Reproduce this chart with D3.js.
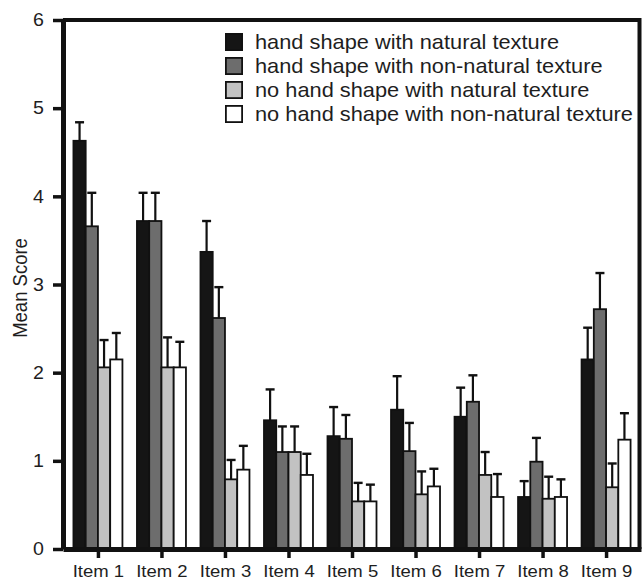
<!DOCTYPE html>
<html>
  <head>
    <meta charset="UTF-8" />
    <script src="https://cdn.jsdelivr.net/npm/d3@7"></script>
    <title>Mean Score</title>
    <style type="text/css">
      body { margin: 0; background: #fff; }
      text { font-family: "Liberation Sans", Arial, sans-serif; fill: #1e1e1e; }
    </style>
  </head>
  <body>
    <div id="chartcontainer"></div>
    <script>
      // data
      var items = ["Item 1", "Item 2", "Item 3", "Item 4", "Item 5", "Item 6", "Item 7", "Item 8", "Item 9"];
      var seriesNames = [
        "hand shape with natural texture",
        "hand shape with non-natural texture",
        "no hand shape with natural texture",
        "no hand shape with non-natural texture"
      ];
      var handNatural = [4.63, 3.72, 3.37, 1.46, 1.28, 1.58, 1.50, 0.59, 2.15];
      var handNonNatural = [3.66, 3.72, 2.62, 1.10, 1.25, 1.11, 1.67, 0.99, 2.72];
      var noHandNatural = [2.06, 2.06, 0.79, 1.10, 0.54, 0.62, 0.84, 0.57, 0.70];
      var noHandNonNatural = [2.15, 2.06, 0.90, 0.84, 0.54, 0.71, 0.59, 0.59, 1.24];
      // upper error (SE)
      var handNaturalErr = [0.21, 0.32, 0.35, 0.35, 0.33, 0.38, 0.33, 0.18, 0.36];
      var handNonNaturalErr = [0.38, 0.32, 0.35, 0.29, 0.27, 0.32, 0.30, 0.27, 0.41];
      var noHandNaturalErr = [0.31, 0.34, 0.22, 0.29, 0.21, 0.26, 0.26, 0.25, 0.27];
      var noHandNonNaturalErr = [0.30, 0.29, 0.27, 0.24, 0.19, 0.20, 0.26, 0.20, 0.30];
      var yTicks = [0, 1, 2, 3, 4, 5, 6];

      var values = [handNatural, handNonNatural, noHandNatural, noHandNonNatural];
      var errors = [handNaturalErr, handNonNaturalErr, noHandNaturalErr, noHandNonNaturalErr];
      var colors = ["#151515", "#6d6d6d", "#c2c2c2", "#ffffff"];
      var stretch = 1.09; // the picture is a little wider than tall

      var margin = { top: 20, right: 2, bottom: 32, left: 63 },
        width = 643 - margin.left - margin.right,
        height = 581 - margin.top - margin.bottom;

      var svg = d3
        .select("#chartcontainer")
        .append("svg")
        .attr("width", 643)
        .attr("height", 581)
        .append("g")
        .attr("transform", "translate(" + margin.left + "," + margin.top + ")");

      var x = d3.scalePoint().domain(items).range([0, width]).padding(0.55);
      var xInner = d3
        .scaleBand()
        .domain(d3.range(seriesNames.length))
        .range([-24.5, 24.5]);
      var y = d3.scaleLinear().domain([0, 6]).range([height, 0]);

      // bars
      var groups = svg
        .selectAll(".group")
        .data(items)
        .enter()
        .append("g")
        .attr("class", "group")
        .attr("transform", function (d) {
          return "translate(" + x(d) + ",0)";
        });

      groups.each(function (item, i) {
        var g = d3.select(this);
        seriesNames.forEach(function (s, k) {
          var v = values[k][i],
            e = errors[k][i],
            cx = xInner(k) + xInner.bandwidth() / 2;
          // error bar (upper only)
          g.append("line")
            .attr("x1", cx)
            .attr("x2", cx)
            .attr("y1", y(v))
            .attr("y2", y(v + e))
            .attr("stroke", "#111")
            .attr("stroke-width", 2.2);
          g.append("line")
            .attr("x1", cx - 4.5)
            .attr("x2", cx + 4.5)
            .attr("y1", y(v + e))
            .attr("y2", y(v + e))
            .attr("stroke", "#111")
            .attr("stroke-width", 2.4);
          g.append("rect")
            .attr("x", xInner(k))
            .attr("y", y(v))
            .attr("width", xInner.bandwidth())
            .attr("height", y(0) - y(v))
            .attr("fill", colors[k])
            .attr("stroke", "#111")
            .attr("stroke-width", 1.8);
        });
      });

      // frame top and right
      svg
        .append("path")
        .attr("d", "M0,0H" + (width - 1.5) + "V" + height)
        .attr("fill", "none")
        .attr("stroke", "#111")
        .attr("stroke-width", 4);

      // Y axis
      var yAxis = svg
        .append("g")
        .call(
          d3
            .axisLeft(y)
            .tickValues(yTicks)
            .tickFormat(d3.format("d"))
            .tickSize(10)
            .tickSizeOuter(0)
            .tickPadding(9)
        );
      yAxis.select(".domain").attr("stroke", "#111").attr("stroke-width", 5);
      yAxis.selectAll(".tick line").attr("stroke", "#111").attr("stroke-width", 3.5);
      yAxis
        .selectAll(".tick text")
        .attr("font-size", "18px")
        .attr("transform", "scale(" + stretch + ",1)")
        .attr("x", -19 / stretch)
        .style("font-family", '"Liberation Sans", Arial, sans-serif')
        .attr("fill", "#1e1e1e");

      // X axis
      var xAxis = svg
        .append("g")
        .attr("transform", "translate(0," + height + ")")
        .call(d3.axisBottom(x).tickSize(9).tickSizeOuter(0).tickPadding(7));
      xAxis.select(".domain").attr("stroke", "#111").attr("stroke-width", 5);
      xAxis.selectAll(".tick line").attr("stroke", "#111").attr("stroke-width", 3.5);
      xAxis
        .selectAll(".tick text")
        .attr("font-size", "17px")
        .attr("transform", "scale(" + stretch + ",1)")
        .style("font-family", '"Liberation Sans", Arial, sans-serif')
        .attr("fill", "#1e1e1e");

      // y label
      svg
        .append("text")
        .attr(
          "transform",
          "translate(" + (27 - margin.left) + "," + (288 - margin.top) + ") scale(" + stretch + ",1) rotate(-90)"
        )
        .attr("text-anchor", "middle")
        .attr("font-size", "18.5px")
        .text("Mean Score");

      // legend
      var legend = svg
        .append("g")
        .attr("transform", "translate(" + (225 - margin.left) + "," + (33 - margin.top) + ")");
      seriesNames.forEach(function (s, k) {
        legend
          .append("rect")
          .attr("x", 0.9)
          .attr("y", k * 24 + 0.9)
          .attr("width", 16.2)
          .attr("height", 16.2)
          .attr("fill", colors[k])
          .attr("stroke", "#111")
          .attr("stroke-width", 1.8);
        legend
          .append("text")
          .attr("transform", "translate(30," + (k * 24 + 16) + ") scale(" + stretch + ",1)")
          .attr("font-size", "20px")
          .text(s);
      });
    </script>
  </body>
</html>
